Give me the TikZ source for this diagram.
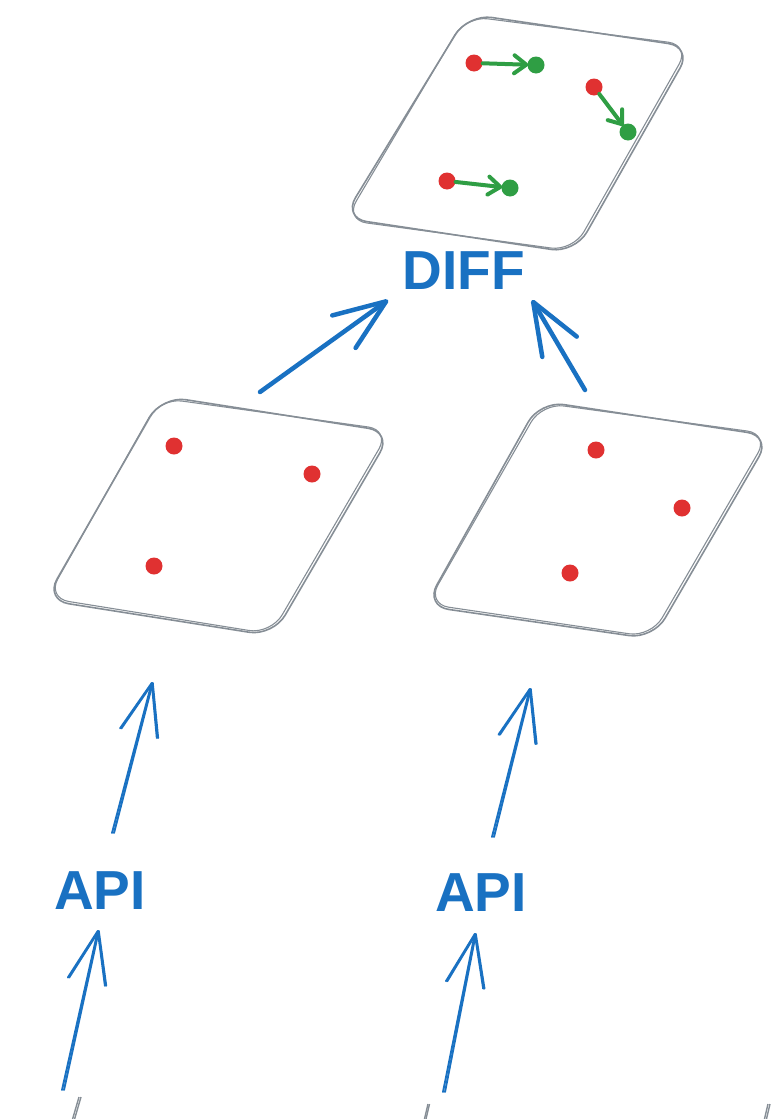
\documentclass[tikz,border=0pt]{standalone}
\usepackage{fontspec}
\setmainfont{Liberation Sans}
\usetikzlibrary{arrows.meta}
\definecolor{eblue}{HTML}{1971C2}
\definecolor{ered}{HTML}{E03131}
\definecolor{egreen}{HTML}{2F9E44}
\definecolor{egrey}{HTML}{868E96}
\begin{document}
\begin{tikzpicture}[x=1pt,y=-1pt,
  card/.style={draw=egrey, line width=1.6pt, rounded corners=24pt},
  cardb/.style={draw=egrey, line width=1.1pt, rounded corners=22pt},
  reddot/.style={circle, fill=ered, inner sep=0pt, minimum size=17pt},
  greendot/.style={circle, fill=egreen, inner sep=0pt, minimum size=17pt},
  garrow/.style={draw=egreen, line width=4pt, line cap=round, -{Straight Barb[length=12pt,width=18pt,round]}, shorten >=-1pt},
  thickarrow/.style={draw=eblue, line width=4.5pt, line cap=round, -{Straight Barb[length=52pt,width=40pt,round]}},
  thinarrow/.style={draw=eblue, line width=1.9pt, line cap=round, -{Straight Barb[length=52pt,width=38pt,round]}},
  lbl/.style={text=eblue, inner sep=0pt, font=\bfseries\fontsize{55}{55}\selectfont},
  stub/.style={draw=egrey, line width=1.4pt}
]
\useasboundingbox[fill=white] (0,0) rectangle (774,1119);

% cards
\draw[card] (468,14) -- (692,47) -- (575,253) -- (343,218) -- cycle;
\draw[cardb] (466,16) -- (690,45) -- (573,251) -- (345,220) -- cycle;
\draw[card] (162,396) -- (392,432) -- (273,636) -- (45,600) -- cycle;
\draw[cardb] (160,398) -- (390,430) -- (271,634) -- (47,598) -- cycle;
\draw[card] (540,401) -- (771,436) -- (653,639) -- (425,606) -- cycle;
\draw[cardb] (542,403) -- (769,434) -- (651,637) -- (427,604) -- cycle;

% top card dots
\node[reddot] (r1) at (474,63) {};
\node[greendot] (g1) at (536,65) {};
\node[reddot] (r2) at (594,87) {};
\node[greendot] (g2) at (628,132) {};
\node[reddot] (r3) at (447,181) {};
\node[greendot] (g3) at (510,188) {};
\draw[garrow] (r1) -- (g1);
\draw[garrow] (r2) -- (g2);
\draw[garrow] (r3) -- (g3);

% left card dots
\node[reddot] (l1) at (174,446) {};
\node[reddot] (l2) at (312,474) {};
\node[reddot] (l3) at (154,566) {};
% right card dots
\node[reddot] (q1) at (596,450) {};
\node[reddot] (q2) at (682,508) {};
\node[reddot] (q3) at (570,573) {};

% labels
\node[lbl] (diff) at (464,271) {DIFF};
\node[lbl] (api1) at (100,891) {API};
\node[lbl] (api2) at (481,893) {API};

% connector end points
\coordinate (dl) at (388,300);
\coordinate (dr) at (532,300);
\coordinate (lt) at (260,392);
\coordinate (rt) at (585,390);
\coordinate (lb) at (152,682);
\coordinate (rb) at (530,688);
\coordinate (a1t) at (112,833);
\coordinate (a2t) at (492,837);
\coordinate (a1b) at (98,930);
\coordinate (a2b) at (475,933);
\coordinate (s1) at (62,1090);
\coordinate (s2) at (443,1092);

\draw[thickarrow] (lt) -- (dl);
\draw[thickarrow] (rt) -- (dr);
\draw[thinarrow] (a1t) -- (lb);
\draw[thinarrow] ([xshift=2pt]a1t) -- ([xshift=1pt]lb);
\draw[thinarrow] (a2t) -- (rb);
\draw[thinarrow] ([xshift=2pt]a2t) -- ([xshift=1pt]rb);
\draw[thinarrow] (s1) -- (a1b);
\draw[thinarrow] ([xshift=2pt]s1) -- ([xshift=1pt]a1b);
\draw[thinarrow] (s2) -- (a2b);
\draw[thinarrow] ([xshift=2pt]s2) -- ([xshift=1pt]a2b);

% cut-off shapes at the bottom edge
\coordinate (c1a) at (79,1097); \coordinate (c1b) at (72,1121);
\coordinate (c2a) at (428,1104); \coordinate (c2b) at (424,1121);
\coordinate (c3a) at (768,1104); \coordinate (c3b) at (764,1121);
\draw[stub] (c1a) -- (c1b);
\draw[stub] ([xshift=2pt]c1a) -- ([xshift=2pt]c1b);
\draw[stub] (c2a) -- (c2b);
\draw[stub] ([xshift=1.5pt]c2a) -- ([xshift=1.5pt]c2b);
\draw[stub] (c3a) -- (c3b);
\draw[stub] ([xshift=2pt]c3a) -- ([xshift=2pt]c3b);
\end{tikzpicture}
\end{document}
